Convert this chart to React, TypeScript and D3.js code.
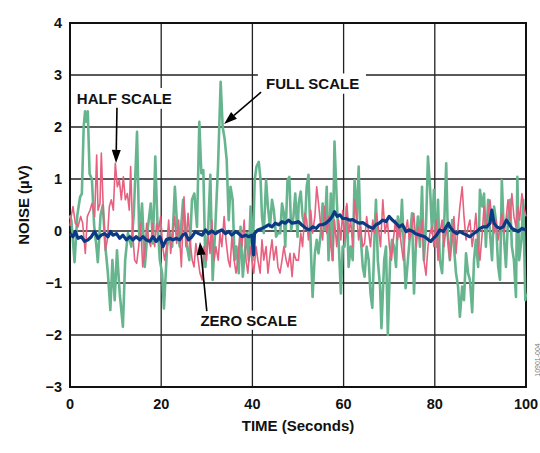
import React from 'react';
import * as d3 from 'd3';

// [seconds, µV]
const fullScale: [number, number][] = [
  [0, 0.3], [0.3, 0.2], [1.0, -0.6], [1.6, 0.3], [2.2, 0.65], [2.6, 0.72], [3.0, 2.0], [3.3, 2.3],
  [3.6, 2.1], [3.9, 2.3], [4.3, 1.1], [4.8, 1.0], [5.3, 0.1], [5.8, -0.3], [6.1, -0.6], [6.7, 0.3],
  [7.2, 0.5], [7.75, -0.3], [8.3, -0.8], [8.85, -1.52], [9.3, -0.56], [9.8, -1.33], [10.3, -0.37],
  [10.9, -1.2], [11.6, -1.84], [12.1, -0.56], [12.7, -0.04], [13.45, -0.3], [14.0, 0.34], [14.7, 1.91],
  [15.2, -0.17], [15.8, 0.53], [16.4, -0.69], [17.1, 0.08], [17.7, 0.53], [18.2, -0.24], [18.7, 1.43],
  [19.15, 0.21], [19.7, -0.56], [20.2, -0.81], [20.6, -1.49], [21.3, -0.3], [21.9, -0.04], [22.4, -0.3],
  [23.0, 0.85], [23.5, 0.08], [24.05, -0.3], [24.8, 0.6], [25.15, 0.21], [25.66, -0.3], [26.17, -0.56],
  [26.75, 0.6], [27.27, 0.72], [27.85, 0.08], [28.36, 2.1], [28.8, 1.11], [29.24, 1.17], [29.7, -0.69],
  [30.26, -0.04], [30.77, 1.08], [31.29, -0.94], [31.87, 0.08], [32.46, 1.24], [33.04, 2.87], [33.48, 2.0],
  [33.9, 1.78], [34.36, 1.37], [34.8, 0.21], [35.2, 0.85], [35.67, 0.6], [36.1, -0.56], [36.5, -0.3],
  [37.0, -0.81], [37.4, 0.08], [37.9, -0.88], [38.3, -0.43], [38.8, -0.04], [39.2, -0.56], [39.6, 0.47],
  [40.05, -0.56], [40.5, 0.98], [40.9, 1.24], [41.4, 1.33], [41.8, 0.98], [42.1, 0.28], [42.5, -0.04],
  [43.0, 0.98], [43.4, 0.47], [43.86, 0.08], [44.3, 0.6], [44.7, 0.4], [45.2, -0.11], [45.6, -0.04],
  [46.1, -0.04], [46.5, 0.53], [46.9, 0.34], [47.2, -0.3], [47.7, 0.98], [48.1, 1.04], [48.5, 0.02],
  [49.0, 0.28], [49.4, 0.72], [49.9, -0.11], [50.15, 0.53], [50.6, 0.76], [51.0, 0.28], [51.5, 0.08],
  [51.9, 0.85], [52.3, 1.08], [52.8, -0.3], [53.2, -1.27], [53.7, -0.43], [54.1, -0.17], [54.5, -0.43],
  [55.0, -0.04], [55.4, 0.53], [55.85, 0.02], [56.3, 0.85], [56.7, -0.56], [57.2, 0.72], [57.6, -0.56],
  [58.0, 1.72], [58.5, 0.6], [58.9, -0.17], [59.4, -1.2], [59.8, -0.3], [60.2, -0.3], [60.7, 0.47],
  [61.1, -0.69], [61.55, -0.3], [62.0, -0.56], [62.4, 0.98], [62.9, 0.21], [63.3, 1.24], [63.7, -0.04],
  [64.2, -0.69], [64.6, -0.88], [65.05, -0.3], [65.5, -0.56], [65.9, -1.2], [66.3, -1.48], [66.8, -0.04],
  [67.1, 0.6], [67.5, -0.56], [68.0, -1.07], [68.3, -1.87], [68.9, -0.56], [69.3, -0.3], [69.7, -2.0],
  [70.2, -0.56], [70.6, -0.17], [71.05, -0.3], [71.5, -0.69], [71.9, 0.28], [72.4, -0.11], [72.8, 0.6],
  [73.2, -0.3], [73.6, -1.1], [74.1, -0.56], [74.6, -0.04], [75.0, 0.34], [75.44, -1.2], [75.9, -0.17],
  [76.3, 0.28], [76.75, -0.3], [77.2, 0.85], [77.6, -0.56], [78.07, 0.08], [78.5, 1.43], [78.95, 0.85],
  [79.4, -0.04], [79.8, 0.79], [80.3, -0.3], [80.7, 0.6], [81.1, -0.56], [81.6, -0.81], [82.0, -0.04],
  [82.5, 1.3], [82.9, -0.17], [83.3, -0.56], [83.8, 0.21], [84.2, -0.3], [84.65, -0.81], [85.1, -1.07],
  [85.5, -1.65], [86.0, -1.07], [86.4, -1.33], [86.85, -0.43], [87.3, -0.81], [87.7, -0.94], [88.2, -1.56],
  [88.6, -0.56], [89.0, -0.17], [89.5, -0.69], [89.9, 0.79], [90.4, 0.47], [90.8, 0.72], [91.2, -0.3],
  [91.7, 0.6], [92.1, -0.04], [92.55, -0.56], [93.0, 0.47], [93.4, 0.21], [93.9, -0.69], [94.3, -0.94],
  [94.7, 0.98], [95.2, -0.17], [95.6, -0.69], [96.05, 0.21], [96.5, 0.6], [96.9, -0.3], [97.35, -0.56],
  [97.8, -1.27], [98.1, 1.04], [98.5, -0.56], [99.0, -0.17], [99.4, 0.6], [99.85, -1.33], [100, -1.2],
];

const halfScale: [number, number][] = [
  [0, 0.1], [0.3, 0.3], [0.66, 0.47], [1.17, 0.15], [1.75, 0.08], [2.34, 0.28], [2.78, 0.15], [3.36, -0.43],
  [3.8, 0.28], [4.39, 0.4], [4.82, 0.53], [5.41, 0.28], [5.85, 1.46], [6.14, 0.4], [6.58, 0.53], [6.87, 1.5],
  [7.31, 0.4], [7.75, -0.37], [8.19, -0.17], [8.63, 0.47], [9.06, 0.6], [9.5, 0.4], [9.94, 1.3], [10.38, 0.85],
  [10.82, 0.98], [11.26, 0.6], [11.7, 1.04], [12.13, 0.6], [12.57, 0.72], [13.0, 0.4], [13.3, 1.24],
  [13.74, -0.04], [14.18, -0.56], [14.62, -0.62], [15.06, -0.3], [15.5, 0.15], [15.94, -0.69], [16.37, -0.43],
  [16.81, 0.15], [17.25, -0.17], [17.69, -0.3], [18.13, 0.15], [18.57, -0.3], [19.0, 0.15], [19.44, 0.02],
  [19.88, 0.28], [20.32, -0.3], [20.76, -0.56], [21.2, -0.3], [21.64, 0.21], [22.08, -0.43], [22.51, -0.04],
  [22.95, 0.28], [23.39, -0.24], [23.83, 0.21], [24.42, -0.69], [25.0, 0.66], [25.4, -0.3], [25.9, 0.34],
  [26.3, -0.17], [26.8, -0.56], [27.2, -0.69], [27.6, -0.24], [28.1, -0.56], [28.5, -0.81], [29.0, -0.94],
  [29.4, -0.3], [29.9, -0.56], [30.3, -0.04], [30.7, -0.43], [31.1, 0.21], [31.6, -0.56], [32.0, -0.3],
  [32.5, -0.56], [32.9, -0.04], [33.3, -0.3], [33.8, 0.28], [34.2, -0.17], [34.7, -0.56], [35.1, -0.69],
  [35.5, -0.11], [36.0, -0.56], [36.4, -0.81], [36.8, -0.56], [37.3, -0.04], [37.7, -0.3], [38.2, 0.21],
  [38.6, -0.56], [39.0, -0.81], [39.5, -0.3], [39.9, -0.56], [40.3, -0.81], [40.8, -0.3], [41.2, -0.56],
  [41.7, -0.81], [42.1, -0.17], [42.5, -0.56], [43.0, -0.3], [43.4, -0.81], [43.9, -0.43], [44.3, -0.17],
  [44.7, -0.56], [45.2, -0.3], [45.6, -0.69], [46.05, -0.81], [46.5, -0.56], [46.9, -0.3], [47.4, -0.56],
  [47.8, -0.69], [48.25, -0.43], [48.7, -0.88], [49.1, -0.43], [49.6, -0.56], [50.1, -0.56], [50.6, -0.04],
  [51.0, -0.3], [51.5, 0.34], [51.9, 0.21], [52.3, -0.17], [52.8, 0.4], [53.2, -0.04], [53.7, 0.28],
  [54.1, 0.85], [54.5, 0.53], [55.0, 0.08], [55.4, -0.17], [55.85, 0.47], [56.3, -0.04], [56.7, 0.28],
  [57.2, -0.3], [57.6, -0.56], [58.0, 0.21], [58.5, -0.3], [58.9, 0.21], [59.4, -0.17], [59.8, 0.4],
  [60.2, -0.17], [60.7, 0.53], [61.1, -0.04], [61.55, 0.21], [62.0, -0.3], [62.4, 0.6], [62.9, 0.28],
  [63.3, -0.17], [63.7, 0.08], [64.2, -0.3], [64.6, -0.24], [65.05, 0.28], [65.5, -0.04], [65.9, -0.3],
  [66.4, 0.21], [66.8, -0.04], [67.2, 0.34], [67.6, 0.08], [68.1, -0.3], [68.6, 0.6], [69.1, -0.04],
  [69.6, 0.21], [70.05, -0.3], [70.5, -0.56], [70.9, -0.17], [71.4, 0.21], [71.8, -0.17], [72.2, 0.08],
  [72.7, -0.3], [73.1, -0.56], [73.5, -0.04], [74.0, 0.21], [74.4, -0.17], [75.0, 0.08], [75.4, 0.34],
  [75.9, -0.3], [76.3, 0.08], [76.75, -0.17], [77.2, 0.21], [77.6, -0.56], [78.07, -0.85], [78.5, -0.3],
  [78.95, -0.04], [79.4, 0.08], [79.8, -0.3], [80.3, 0.21], [80.7, -0.56], [81.1, -0.04], [81.6, 0.21],
  [82.0, -0.3], [82.5, 0.08], [82.9, -0.17], [83.3, -0.56], [83.8, -0.17], [84.2, 0.28], [84.65, -0.43],
  [85.1, 0.08], [85.5, 0.47], [86.0, 0.85], [86.4, 0.28], [86.85, -0.17], [87.3, 0.08], [87.7, 0.21],
  [88.2, -0.3], [88.6, -0.04], [89.0, 0.34], [89.5, -0.3], [89.9, -0.56], [90.4, -0.04], [90.8, 0.47],
  [91.2, 0.08], [91.7, 0.34], [92.1, 0.6], [92.55, 0.21], [93.0, -0.04], [93.4, 0.21], [93.9, -0.17],
  [94.3, 0.08], [94.7, 0.34], [95.2, -0.04], [95.6, 0.21], [96.05, 0.6], [96.5, 0.21], [96.9, 0.72],
  [97.35, 0.28], [97.8, 0.08], [98.2, 0.47], [98.6, 0.21], [99.1, 0.72], [99.5, 0.47], [100, 0.28],
];

const zeroScale: [number, number][] = [
  [0, -0.05], [0.66, -0.11], [1.17, -0.01], [1.75, -0.14], [2.49, -0.11], [3.2, -0.2], [3.95, -0.17],
  [4.68, -0.11], [5.4, -0.01], [6.14, -0.14], [6.87, -0.08], [7.6, -0.05], [8.33, -0.11], [8.9, -0.01],
  [9.4, -0.08], [10.2, -0.05], [10.9, -0.14], [11.6, -0.08], [12.35, -0.17], [13.1, -0.11], [13.8, -0.17],
  [14.5, -0.11], [15.3, -0.17], [16.0, -0.11], [16.7, -0.17], [17.5, -0.2], [18.2, -0.11], [18.9, -0.2],
  [19.7, -0.11], [20.4, -0.3], [21.1, -0.17], [21.9, -0.14], [22.6, -0.17], [23.3, -0.14], [24.05, -0.17],
  [24.8, -0.07], [25.3, -0.05], [26.0, -0.17], [26.75, -0.11], [27.5, -0.01], [28.2, -0.05], [29.0, -0.08],
  [29.7, 0.02], [30.4, -0.05], [31.1, 0.0], [31.9, -0.05], [32.6, -0.01], [33.3, 0.02], [34.1, -0.05],
  [34.8, -0.01], [35.5, -0.08], [36.3, -0.01], [37.0, -0.05], [37.7, -0.11], [38.5, -0.08], [39.2, -0.11],
  [39.9, -0.08], [40.25, -0.46], [40.45, -0.05], [41.2, 0.02], [42.1, 0.05], [42.8, 0.08], [43.6, 0.12],
  [44.3, 0.08], [45.0, 0.15], [45.8, 0.12], [46.5, 0.18], [47.2, 0.15], [47.95, 0.21], [48.7, 0.15],
  [49.4, 0.16], [50.1, 0.18], [50.8, 0.12], [51.75, 0.05], [52.5, 0.02], [53.2, 0.08], [54.0, 0.05],
  [54.7, 0.12], [55.4, 0.12], [56.1, 0.15], [56.9, 0.21], [57.5, 0.28], [58.0, 0.37], [58.6, 0.28],
  [59.2, 0.31], [59.8, 0.24], [60.5, 0.24], [61.3, 0.21], [62.0, 0.22], [62.7, 0.18], [63.5, 0.15],
  [64.2, 0.16], [64.9, 0.12], [65.6, 0.08], [66.4, 0.05], [67.1, 0.12], [67.8, 0.15], [68.6, 0.21],
  [69.3, 0.18], [70.0, 0.28], [70.7, 0.21], [71.5, 0.15], [72.2, 0.08], [72.9, 0.12], [73.7, -0.01],
  [74.4, 0.02], [75.2, -0.01], [75.7, -0.05], [76.75, -0.08], [77.8, -0.11], [78.6, -0.17], [79.1, -0.2],
  [79.7, -0.14], [80.4, -0.08], [81.1, 0.02], [81.9, -0.01], [82.5, 0.08], [83.0, 0.15], [83.3, 0.08],
  [84.1, -0.01], [84.8, -0.05], [85.5, -0.01], [86.3, -0.05], [87.0, -0.08], [87.7, -0.11], [88.5, -0.05],
  [89.2, -0.01], [89.9, 0.05], [90.6, 0.08], [91.4, 0.08], [92.1, 0.15], [92.5, 0.4], [93.0, 0.15],
  [93.6, 0.08], [94.3, 0.05], [95.0, 0.08], [95.7, 0.21], [96.2, 0.15], [96.9, 0.05], [97.6, 0.02],
  [98.3, -0.01], [99.1, 0.05], [100, 0.02],
];

const xTicks = [0, 20, 40, 60, 80, 100];
const yTicks = [-3, -2, -1, 0, 1, 2, 3, 4];

const FONT = '"Liberation Sans", Arial, Helvetica, sans-serif';

const x = d3.scaleLinear().domain([0, 100]).range([70, 526]);
const y = d3.scaleLinear().domain([-3, 4]).range([387, 23]);

const line = d3
  .line<[number, number]>()
  .x((d) => x(d[0]))
  .y((d) => y(d[1]));

// annotation positions in data units
const labels = [
  { text: 'HALF SCALE', at: [1.5, 2.44], box: [0.9, 23.2, 2.75, 2.35], from: [10.3, 2.37], to: [10.1, 1.31] },
  { text: 'FULL SCALE', at: [43.0, 2.73], box: [41.2, 64.9, 3.03, 2.64], from: [41.9, 2.67], to: [33.8, 2.06] },
  { text: 'ZERO SCALE', at: [28.6, -1.83], box: [28.2, 50.5, -1.53, -1.9], from: [30.0, -1.54], to: [28.5, -0.21] },
];

const Arrow = ({ from, to }) => {
  const x1 = x(from[0]);
  const y1 = y(from[1]);
  const x2 = x(to[0]);
  const y2 = y(to[1]);
  const a = Math.atan2(y2 - y1, x2 - x1);
  const len = 13;
  const w = 4.5;
  const bx = x2 - len * Math.cos(a);
  const by = y2 - len * Math.sin(a);
  const px = -Math.sin(a) * w;
  const py = Math.cos(a) * w;
  return (
    <g>
      <line x1={x1} y1={y1} x2={bx} y2={by} stroke="#000" strokeWidth={1.6} />
      <path d={`M${x2},${y2}L${bx + px},${by + py}L${bx - px},${by - py}Z`} fill="#000" />
    </g>
  );
};

const App = () => {
  return (
    <svg
      width={540}
      height={453}
      style={{ position: 'absolute', left: 0, top: 0, background: '#fff' }}
      fontFamily={FONT}
    >
      <rect width={540} height={453} fill="#fff" />
      <g stroke="#222" strokeWidth={1.3}>
        {yTicks.slice(1, -1).map((t) => (
          <line key={`h${t}`} x1={x(0)} x2={x(100)} y1={y(t)} y2={y(t)} />
        ))}
        {xTicks.slice(1, -1).map((t) => (
          <line key={`v${t}`} x1={x(t)} x2={x(t)} y1={y(-3)} y2={y(4)} />
        ))}
      </g>
      {labels.map((l) => (
        <rect
          key={`b${l.text}`}
          x={x(l.box[0])}
          y={y(l.box[2])}
          width={x(l.box[1]) - x(l.box[0])}
          height={y(l.box[3]) - y(l.box[2])}
          fill="#fff"
        />
      ))}
      <rect
        x={x(0)}
        y={y(4)}
        width={x(100) - x(0)}
        height={y(-3) - y(4)}
        fill="none"
        stroke="#111"
        strokeWidth={2}
      />
      <path d={line(fullScale)} fill="none" stroke="#66b58e" strokeWidth={2.6} strokeLinejoin="round" />
      <path d={line(halfScale)} fill="none" stroke="#e6617f" strokeWidth={1.6} strokeLinejoin="round" />
      <path d={line(zeroScale)} fill="none" stroke="#0b3a85" strokeWidth={3.2} strokeLinejoin="round" />

      {labels.map((l) => (
        <g key={l.text}>
          <text x={x(l.at[0])} y={y(l.at[1])} fontSize={15} fontWeight="bold" fill="#111">
            {l.text}
          </text>
          <Arrow from={l.from} to={l.to} />
        </g>
      ))}

      <g fontSize={14.5} fontWeight="bold" fill="#111">
        {yTicks.map((t) => (
          <text key={`yl${t}`} x={62} y={y(t)} dy="0.36em" textAnchor="end">
            {t < 0 ? `\u2212${Math.abs(t)}` : t}
          </text>
        ))}
        {xTicks.map((t) => (
          <text key={`xl${t}`} x={x(t)} y={409} textAnchor="middle">
            {t}
          </text>
        ))}
      </g>
      <text x={x(50)} y={431} textAnchor="middle" fontSize={15} fontWeight="bold" fill="#111">
        TIME (Seconds)
      </text>
      <text
        transform={`translate(29,${y(0.5)}) rotate(-90)`}
        textAnchor="middle"
        fontSize={15}
        fontWeight="bold"
        fill="#111"
      >
        NOISE (µV)
      </text>
      <text
        transform={`translate(540,360) rotate(-90)`}
        textAnchor="middle"
        fontSize={7}
        fill="#777"
      >
        10901-004
      </text>
    </svg>
  );
};

export default App;
